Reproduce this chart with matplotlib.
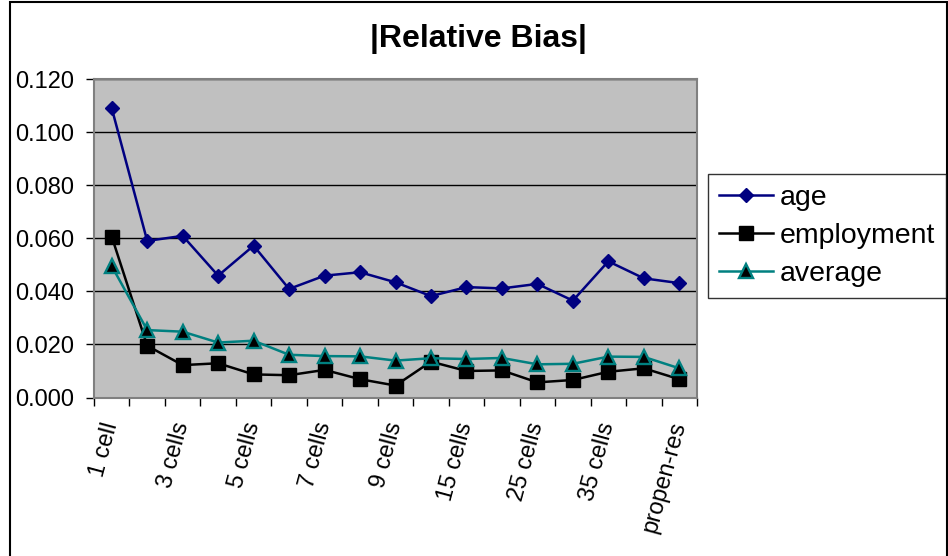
import matplotlib
matplotlib.use("Agg")
import matplotlib.pyplot as plt
from matplotlib.patches import Rectangle
from matplotlib.ticker import FixedLocator, FormatStrFormatter
import numpy as np

plt.rcParams['font.family'] = ['Liberation Sans', 'DejaVu Sans']

#%% DATA ------------------------------------------------------------------------
categories = ['1 cell', '2 cells', '3 cells', '4 cells', '5 cells', '6 cells',
              '7 cells', '8 cells', '9 cells', '10 cells', '15 cells', '20 cells',
              '25 cells', '30 cells', '35 cells', '40 cells', 'propen-res']

age = [0.109, 0.059, 0.0609, 0.0459, 0.0572, 0.0409, 0.0459, 0.0472, 0.0434,
       0.0382, 0.0416, 0.0411, 0.0428, 0.0365, 0.0513, 0.0449, 0.0431]

employment = [0.0606, 0.0195, 0.0122, 0.0129, 0.0087, 0.0084, 0.0104, 0.0069, 0.0045,
              0.0135, 0.0100, 0.0102, 0.0057, 0.0066, 0.0097, 0.0110, 0.0069]

average = [0.0495, 0.0254, 0.0248, 0.0207, 0.0214, 0.0161, 0.0156, 0.0155, 0.0139,
           0.0148, 0.0145, 0.0149, 0.0125, 0.0127, 0.0154, 0.0153, 0.0110]

series_labels = ['age', 'employment', 'average']

#%% PLOT ------------------------------------------------------------------------
W, H = 948, 556
fig = plt.figure(figsize=(W / 100, H / 100), dpi=100)
ax = fig.add_axes([94 / W, 1 - 397.5 / H, (697 - 94) / W, (397.5 - 79) / H])

ax.set_facecolor('#C0C0C0')
x = np.arange(len(categories))

ax.plot(x, age, color='#000080', lw=1.8, marker='D', ms=7.5,
        mfc='#000080', mec='#000080', label=series_labels[0], zorder=3)
ax.plot(x, employment, color='black', lw=1.8, marker='s', ms=10,
        mfc='black', mec='black', label=series_labels[1], zorder=3)
ax.plot(x, average, color='#008080', lw=1.8, marker='^', ms=10,
        mfc='black', mec='#008080', mew=1.7, label=series_labels[2], zorder=3)

ax.set_xlim(-0.5, len(categories) - 0.5)
ax.set_ylim(0, 0.12)
ax.set_yticks(np.arange(0, 0.121, 0.02))
ax.yaxis.set_major_formatter(FormatStrFormatter('%.3f'))
ax.yaxis.grid(True, color='black', lw=1)
ax.set_axisbelow(True)

# labels on every other category, tick marks on category boundaries
ax.set_xticks(x[::2])
ax.set_xticklabels(categories[::2], rotation=75, ha='right', va='center',
                   rotation_mode='anchor', fontsize=17)
ax.xaxis.set_minor_locator(FixedLocator(np.arange(-0.5, len(categories), 1)))
ax.tick_params(axis='x', which='major', length=0, pad=18)
ax.tick_params(axis='x', which='minor', length=6, width=1, color='black')
ax.tick_params(axis='y', length=6, width=1, labelsize=17, pad=8)

for s in ax.spines.values():
    s.set_color('#808080')
    s.set_linewidth(1.5)

fig.text(478 / W, 1 - 39 / H, '|Relative Bias|', ha='center', va='center',
         fontsize=23, fontweight='bold')

leg = fig.legend(loc='upper left', bbox_to_anchor=(708 / W, 1 - 174 / H),
                 fontsize=20.5, frameon=True, fancybox=False, borderaxespad=0,
                 handlelength=1.9, handletextpad=0.25, labelspacing=0.42,
                 borderpad=0.38)
leg.get_frame().set_edgecolor('black')
leg.get_frame().set_linewidth(1)

# outer chart border
fig.patches.append(Rectangle((9.5 / W, -0.05), (947 - 9.5) / W, 1.05 - 2 / H,
                             transform=fig.transFigure, fill=False,
                             edgecolor='black', lw=1.5))

fig.savefig('out.png', dpi=100)
